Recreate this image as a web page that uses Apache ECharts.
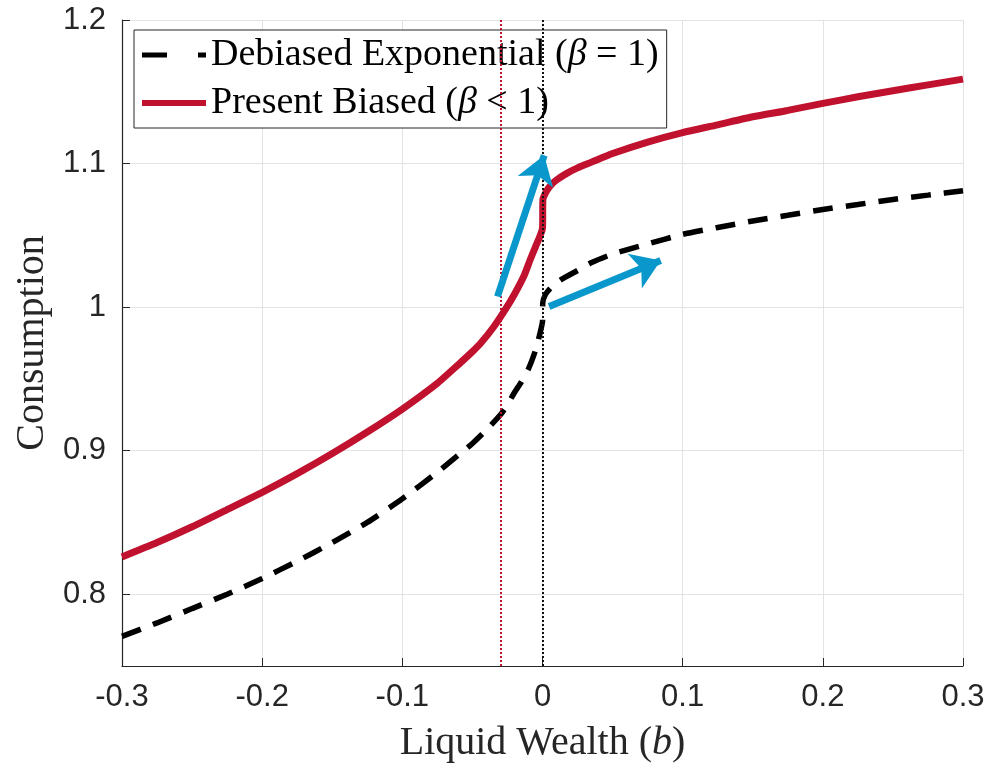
<!DOCTYPE html>
<html>
<head>
<meta charset="utf-8">
<script src="https://cdn.jsdelivr.net/npm/echarts@6/dist/echarts.min.js"></script>
<style>html,body{margin:0;padding:0;background:#fff;}#c{width:993px;height:768px;}</style>
</head>
<body>
<div id="c"></div>
<script>
// Present Biased (beta < 1)
const pbX = [-0.3, -0.275, -0.25, -0.225, -0.2, -0.175, -0.15, -0.125, -0.1, -0.075, -0.06, -0.05, -0.044, -0.035, -0.0274, -0.02, -0.0131, -0.0088, -0.005, -0.002, 0, 0.0003, 0.003, 0.006, 0.01, 0.017, 0.025, 0.035, 0.05, 0.075, 0.1, 0.125, 0.15, 0.175, 0.2, 0.225, 0.25, 0.275, 0.3];
const pbY = [0.826, 0.836, 0.847, 0.859, 0.871, 0.884, 0.898, 0.913, 0.929, 0.947, 0.960, 0.969, 0.975, 0.986, 0.997, 1.009, 1.022, 1.033, 1.042, 1.049, 1.055, 1.075, 1.081, 1.085, 1.0885, 1.093, 1.097, 1.101, 1.107, 1.115, 1.1216, 1.127, 1.1326, 1.137, 1.1419, 1.1465, 1.1507, 1.1548, 1.1588];
// Debiased Exponential (beta = 1)
const deX = [-0.3, -0.275, -0.25, -0.225, -0.2, -0.175, -0.15, -0.125, -0.1, -0.075, -0.06, -0.05, -0.04, -0.03, -0.025, -0.02, -0.015, -0.01, -0.006, -0.003, -0.001, 0, 0.0002, 0.002, 0.006, 0.013, 0.025, 0.035, 0.05, 0.075, 0.1, 0.125, 0.15, 0.175, 0.2, 0.225, 0.25, 0.275, 0.3];
const deY = [0.7706, 0.780, 0.790, 0.800, 0.811, 0.823, 0.836, 0.850, 0.8665, 0.885, 0.897, 0.905, 0.9145, 0.925, 0.932, 0.9405, 0.948, 0.957, 0.967, 0.977, 0.985, 0.990, 1.003, 1.0086, 1.0135, 1.019, 1.0255, 1.031, 1.037, 1.044, 1.0507, 1.0555, 1.060, 1.064, 1.068, 1.0715, 1.075, 1.078, 1.081];
// vertical reference lines (x positions)
const vRed = -0.0274;
const vBlack = 0;
// arrows: [startX, startY, endX, endY]
const arrows = [
  [-0.0321, 1.0074, 0.0012, 1.1057],
  [0.0047, 1.0005, 0.0843, 1.0325]
];
const yTicks = [0.8, 0.9, 1.0, 1.1, 1.2];
const nameDE = 'Debiased Exponential (β = 1)';
const namePB = 'Present Biased (β < 1)';

const RED = '#c0122f';
const BLUE = '#0a98cc';
const AX = '#262626';
const serif = '"Liberation Serif", "Times New Roman", serif';
const sans = '"Liberation Sans", Arial, Helvetica, sans-serif';

const chart = echarts.init(document.getElementById('c'), null, {renderer: 'canvas'});
chart.setOption({
  animation: false,
  backgroundColor: '#fff',
  grid: {left: 122, right: 30, top: 20, bottom: 98, containLabel: false},
  legend: {
    orient: 'vertical',
    left: 134, top: 30,
    backgroundColor: '#fff',
    borderColor: AX, borderWidth: 1,
    padding: [3, 8, 3, 5],
    itemGap: 4,
    itemWidth: 64, itemHeight: 14,
    itemStyle: {opacity: 0},
    data: [
      {name: nameDE, lineStyle: {width: 5, type: [25, 31]}},
      {name: namePB, lineStyle: {width: 6}}
    ],
    formatter: function (n) { return n.replace('β', '{it|β}'); },
    textStyle: {
      fontFamily: serif, fontSize: 38, color: '#000', lineHeight: 44,
      rich: {it: {fontFamily: serif, fontStyle: 'italic', fontSize: 38, color: '#000'}}
    }
  },
  xAxis: {
    type: 'value', min: -0.3, max: 0.3, interval: 0.1,
    name: 'Liquid Wealth ({it|b})', nameLocation: 'middle', nameGap: 57,
    nameTextStyle: {fontFamily: serif, fontSize: 40, color: AX,
      rich: {it: {fontFamily: serif, fontStyle: 'italic', fontSize: 40, color: AX}}},
    axisLine: {onZero: false, lineStyle: {color: AX, width: 1.2}},
    axisTick: {inside: true, length: 8, lineStyle: {color: AX}},
    axisLabel: {fontFamily: sans, fontSize: 31, color: AX, margin: 16},
    splitLine: {show: true, lineStyle: {color: '#e3e3e3', width: 1}}
  },
  yAxis: {
    type: 'value', min: 0.75, max: 1.2,
    name: 'Consumption', nameLocation: 'middle', nameGap: 70, nameRotate: 90,
    nameTextStyle: {fontFamily: serif, fontSize: 40, color: AX},
    axisLine: {onZero: false, lineStyle: {color: AX, width: 1.2}},
    axisTick: {inside: true, length: 8, lineStyle: {color: AX}, customValues: yTicks},
    axisLabel: {fontFamily: sans, fontSize: 31, color: AX, margin: 16, customValues: yTicks},
    splitLine: {show: true, lineStyle: {color: '#e3e3e3', width: 1}}
  },
  series: [
    {
      name: nameDE, type: 'line', showSymbol: false, symbol: 'none',
      smooth: 0.2,
      data: deX.map((x, i) => [x, deY[i]]),
      lineStyle: {color: '#000', width: 5.5, type: [20, 13]},
      itemStyle: {color: '#000'},
      z: 3,
      markLine: {
        silent: true, symbol: 'none', label: {show: false},
        lineStyle: {color: '#111', width: 2, type: [2, 2]},
        data: [{xAxis: vBlack}]
      }
    },
    {
      name: namePB, type: 'line', showSymbol: false, symbol: 'none',
      smooth: 0.2,
      data: pbX.map((x, i) => [x, pbY[i]]),
      lineStyle: {color: RED, width: 7},
      itemStyle: {color: RED},
      z: 4,
      markLine: {
        silent: true, symbol: 'none', label: {show: false},
        lineStyle: {color: RED, width: 2, type: [2, 2]},
        data: [{xAxis: vRed}]
      }
    },
    {
      type: 'lines', coordinateSystem: 'cartesian2d', z: 5,
      symbol: ['none', 'arrow'], symbolSize: 28,
      lineStyle: {color: BLUE, width: 7, opacity: 1, curveness: 0},
      data: arrows.map(a => ({coords: [[a[0], a[1]], [a[2], a[3]]]}))
    }
  ]
});
</script>
</body>
</html>
